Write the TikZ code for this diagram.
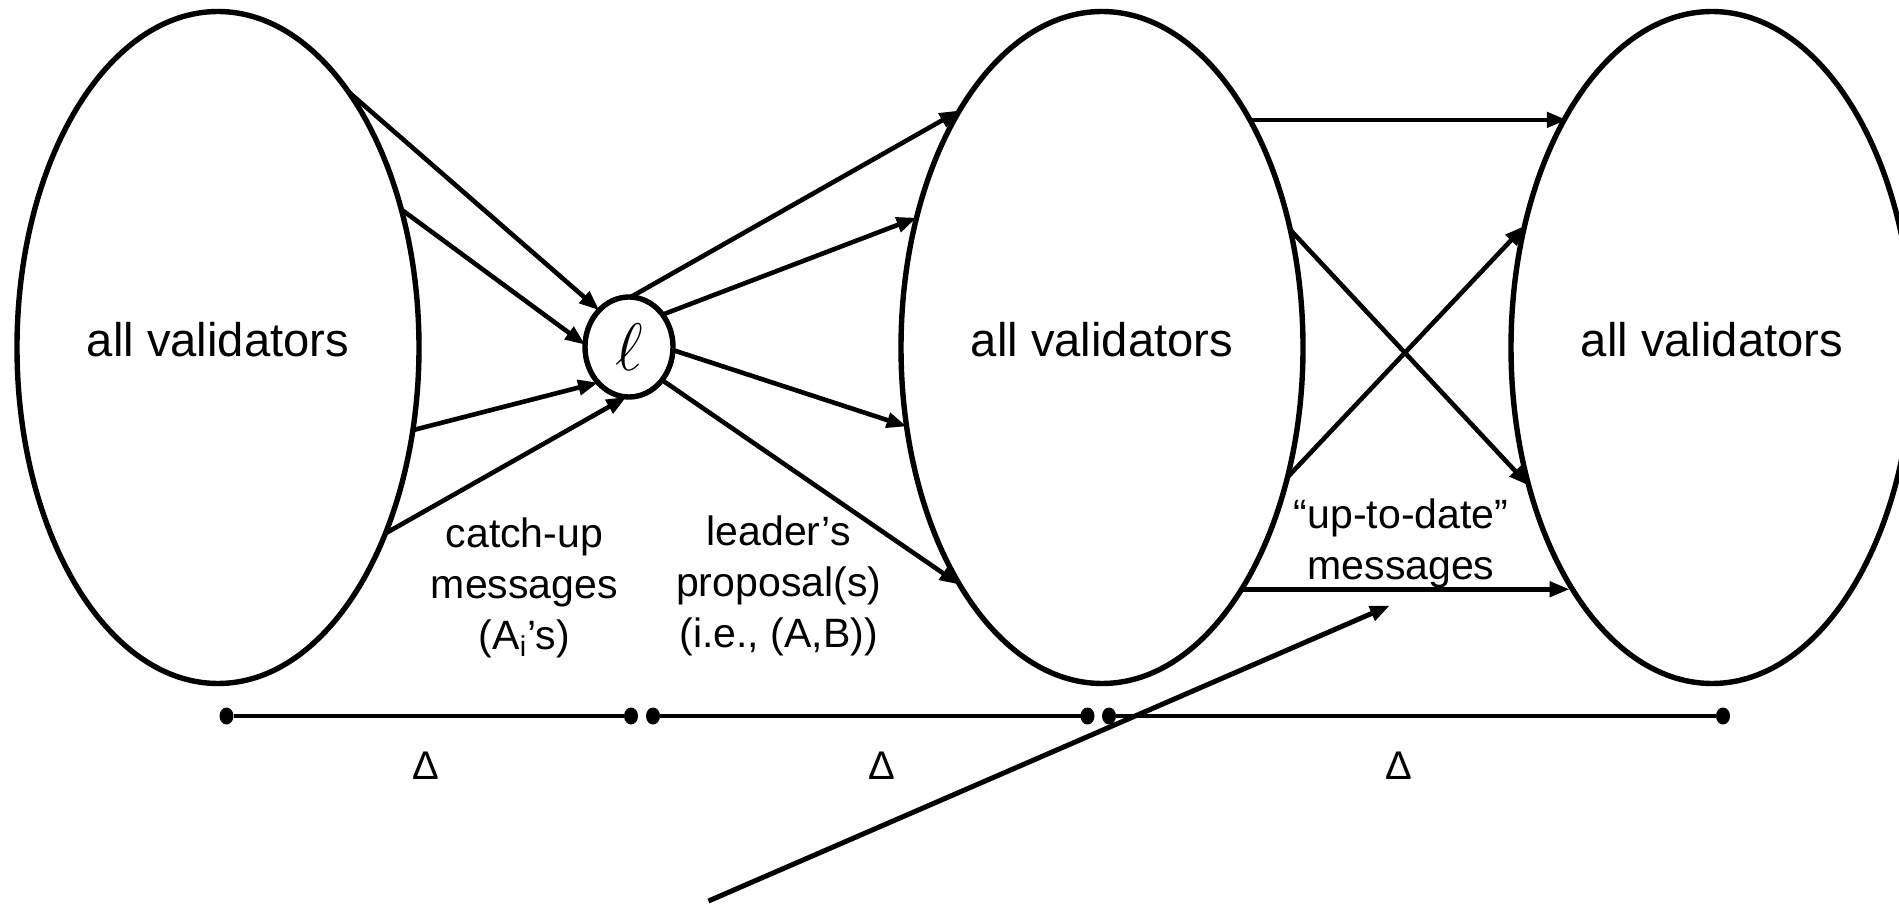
\documentclass[tikz,border=0pt]{standalone}
\usepackage{fontspec}
\usepackage{graphicx}
\setmainfont{Liberation Sans}
\usetikzlibrary{shapes.geometric,arrows.meta,calc}

\begin{document}
\begin{tikzpicture}[x=0.5pt,y=-0.5pt,
  group/.style={ellipse,draw,line width=2.7pt,minimum width=201pt,minimum height=336pt,inner sep=0pt,outer sep=0pt},
  leader/.style={ellipse,draw,line width=2.7pt,minimum width=44pt,minimum height=50pt,inner sep=0pt,outer sep=0pt,fill=white,font=\fontsize{24}{28}\selectfont},
  msg/.style={line width=2.3pt,-{Triangle[length=10pt,width=7.5pt]}},
  tick/.style={ellipse,fill=black,minimum width=7pt,minimum height=8.5pt,inner sep=0pt,outer sep=0pt},
  span/.style={line width=2.3pt},
  grouplabel/.style={font=\fontsize{23.6}{28}\selectfont,inner sep=0pt},
  note/.style={align=center,font=\fontsize{20.5}{25.5}\selectfont,inner sep=0pt},
  delta/.style={font=\fontsize{20}{24}\selectfont,inner sep=0pt}]

\path[use as bounding box] (0,0) rectangle (1899,908);
\clip (0,0) rectangle (1899,908);

% the three validator sets
\node[group] (e1) at (218,347.5) {};
\node[group] (e2) at (1102,347.5) {};
\node[group] (e3) at (1712,347.5) {};
\node[grouplabel] (t1) at ($(e1.center)+(0,-8)$) {all validators};
\node[grouplabel] (t2) at ($(e2.center)+(0,-8)$) {all validators};
\node[grouplabel] (t3) at ($(e3.center)+(0,-8)$) {all validators};

% the leader
\node[leader] (ld) at (629,347) {\scalebox{1.35}{$\ell$}};

% catch-up messages to the leader
\draw[msg] (e1.63.2) -- (ld.129.6);
\draw[msg] (e1.37.5) -- (ld.177.5);
\draw[msg] (e1.-23) -- (ld.229.1);
\draw[msg] (e1.-48) -- (ld.267.7);

% proposals from the leader
\draw[msg] (ld.88) -- (e2.121.4);
\draw[msg] (ld.44) -- (e2.145);
\draw[msg] (ld.-4.7) -- (e2.202.1);
\draw[msg] (ld.-45.8) -- (e2.239.1);

% up-to-date messages
\draw[msg] (e2.57.8) -- (e2.57.8 -| e3.122);
\draw[msg] (e2.32) -- (e3.217);
\draw[msg] (e2.-35.3) -- (e3.147);
\draw[msg] (e2.-60.5) -- (e2.-60.5 -| e3.239.4);

% labels of the message rounds
\node[note] (n1) at (524.4,588) {catch-up\\messages\\(A\textsubscript{i}’s)};
\node[note] (n2) at (778.7,586) {leader’s\\proposal(s)\\(i.e., (A,B))};
\node[note] (n3) at (1401,543) {“up-to-date”\\messages};

% time line
\node[tick] (d1) at (226.5,716) {};
\node[tick] (d2) at (631,716) {};
\node[tick] (d3) at (653,716) {};
\node[tick] (d4) at (1087.5,716) {};
\node[tick] (d5) at (1109,716) {};
\node[tick] (d6) at (1723,716) {};
\draw[span] (d1) -- (d2);
\draw[span] (d3) -- (d4);
\draw[span] (d5) -- (d6);
\node[delta] (D1) at (426,766) {Δ};
\node[delta] (D2) at (882,766) {Δ};
\node[delta] (D3) at (1399,766) {Δ};

% pointer to the up-to-date messages
\coordinate (pfoot) at (708.5,901);
\coordinate (ptip) at (1390,605.5);
\draw[msg,line width=2.5pt] (pfoot) -- (ptip);
\end{tikzpicture}
\end{document}
